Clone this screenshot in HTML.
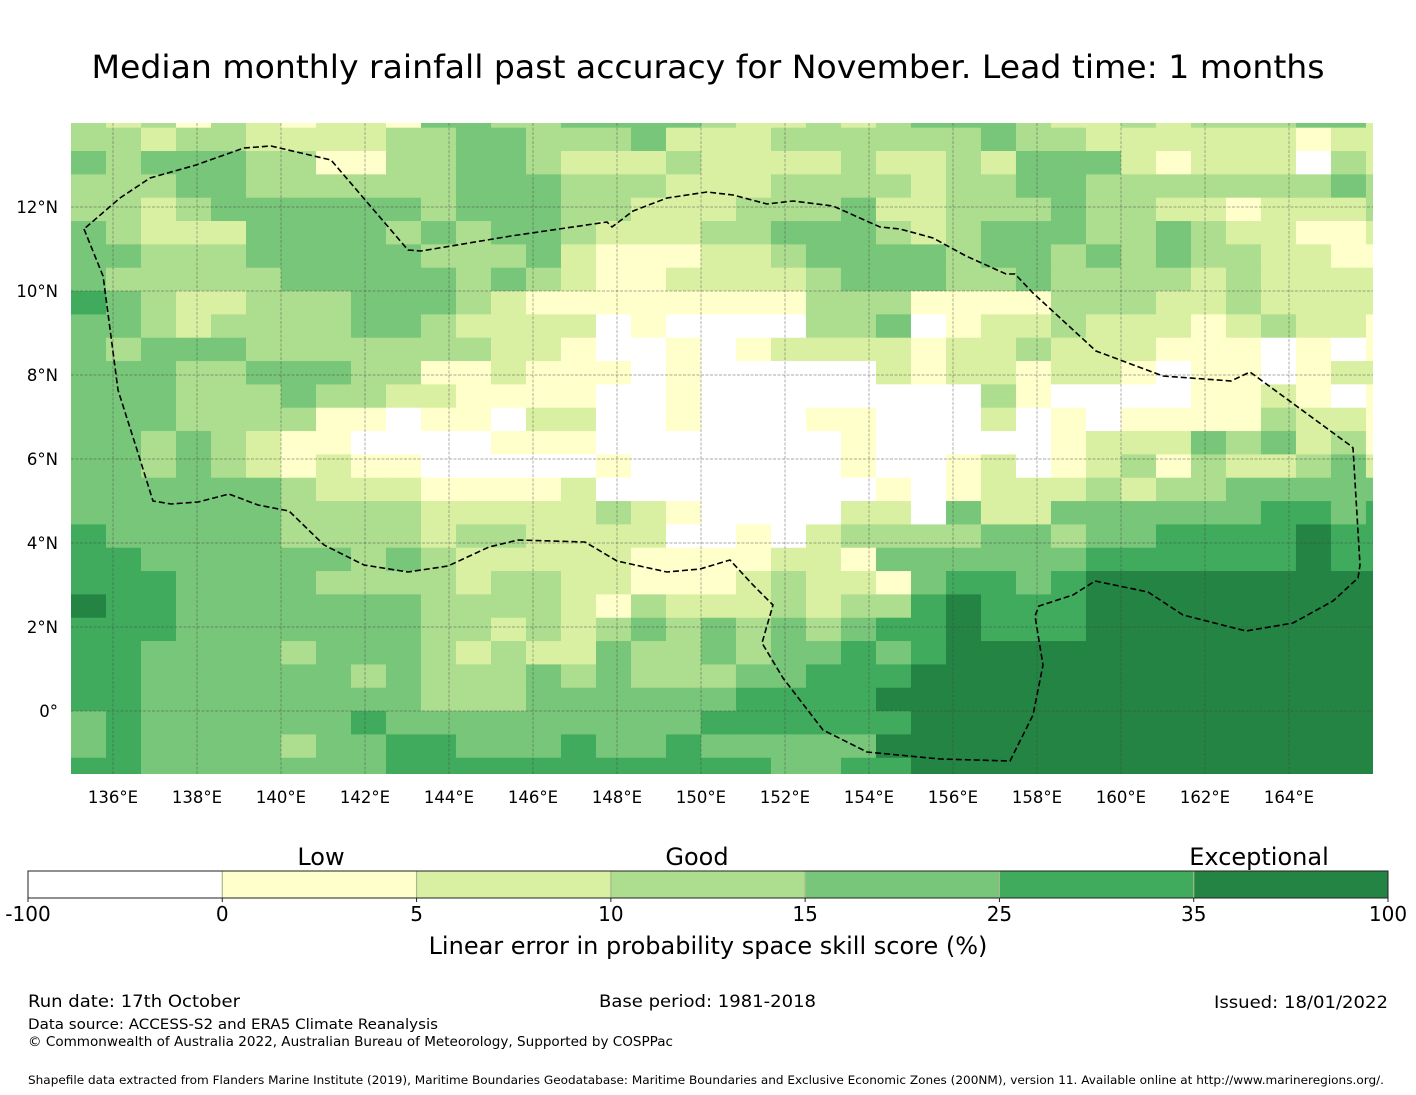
<!DOCTYPE html>
<html><head><meta charset="utf-8"><style>
html,body{margin:0;padding:0;background:#fff}
svg{display:block;font-family:"DejaVu Sans","Liberation Sans",sans-serif}
</style></head><body>
<svg id="chart" width="1416" height="1095" viewBox="0 0 1416 1095" xmlns="http://www.w3.org/2000/svg">
<text x="708" y="78" font-size="32" text-anchor="middle" textLength="1233" lengthAdjust="spacingAndGlyphs">Median monthly rainfall past accuracy for November. Lead time: 1 months</text>
<defs><clipPath id="mapclip"><rect x="71" y="123" width="1302" height="651"/></clipPath></defs>
<g id="map" clip-path="url(#mapclip)">
<g id="cells"></g>
<g id="grid"></g>
<path fill="none" stroke="#000" stroke-width="1.6" stroke-dasharray="6,3" d="M84,229 L103,276 L104,283 L118,390 L138,453 L153,501 L171,504 L198,502 L229,494 L258,505 L289,511 L324,545 L364,565 L408,572 L448,566 L489,547 L518,540 L585,542 L617,561 L667,572 L700,569 L730,560 L753,585 L773,605 L762,643 L783,678 L823,730 L867,752 L940,759 L1010,761 L1033,715 L1043,665 L1035,616 L1039,606 L1073,595 L1095,581 L1148,592 L1183,615 L1246,631 L1293,623 L1333,601 L1358,578 L1360,565 L1353,448 L1351,446 L1250,372 L1231,381 L1163,376 L1096,351 L1033,293 L1015,274 L1006,274 L966,256 L933,238 L900,229 L880,227 L833,206 L793,201 L767,204 L733,195 L707,192 L667,198 L633,211 L612,227 L607,222 L511,236 L421,251 L408,250 L331,160 L271,146 L244,148 L196,165 L150,178 L120,198 Z"/>
</g>
<g id="lonlabels" font-size="16.5"></g>
<g id="latlabels" font-size="16.5"></g>
<g id="cbar"></g>
<text x="321" y="865" font-size="24" text-anchor="middle">Low</text>
<text x="697" y="865" font-size="24" text-anchor="middle">Good</text>
<text x="1259" y="865" font-size="24" text-anchor="middle">Exceptional</text>
<text x="708" y="954" font-size="24" text-anchor="middle">Linear error in probability space skill score (%)</text>
<text x="28" y="1007" font-size="17" textLength="212" lengthAdjust="spacingAndGlyphs">Run date: 17th October</text>
<text x="599" y="1007" font-size="17" textLength="217" lengthAdjust="spacingAndGlyphs">Base period: 1981-2018</text>
<text x="1388" y="1008" font-size="17" text-anchor="end" textLength="174" lengthAdjust="spacingAndGlyphs">Issued: 18/01/2022</text>
<text x="28" y="1029" font-size="14.5" textLength="410" lengthAdjust="spacingAndGlyphs">Data source: ACCESS-S2 and ERA5 Climate Reanalysis</text>
<text x="28" y="1046" font-size="13" textLength="645" lengthAdjust="spacingAndGlyphs">© Commonwealth of Australia 2022, Australian Bureau of Meteorology, Supported by COSPPac</text>
<text x="28" y="1084" font-size="11.5" textLength="1356" lengthAdjust="spacingAndGlyphs">Shapefile data extracted from Flanders Marine Institute (2019), Maritime Boundaries Geodatabase: Maritime Boundaries and Exclusive Economic Zones (200NM), version 11. Available online at http://www.marineregions.org/.</text>
</svg>
<script>
// skill category per cell (0:<0, 1:0-5, 2:5-10, 3:10-15, 4:15-25, 5:25-35, 6:>35), rows north→south, cols west→east
const gridRows = [
"32313212214433444432232344432232333442",
"33233222233443334222333333433222222122",
"43444331133443222322223223244421222032",
"33344333333444333222333323344333333343",
"33234444443444332223334223334332212223",
"43222444434344322233444323444334322112",
"44333444443334211122344443443434332211",
"43333344444343211222234443343333232222",
"54322333444321111111133311113332232222",
"44323333443222201000033401223222123221",
"43444333333322100101222212232221110101",
"44433444331121110100000212212210110122",
"44433343322111100100000000310000112101",
"44433331101102200100011000201011113221",
"44343211000011100000001000001222434231",
"44343212110000010000001001201231322342",
"44444432221111200000000101222323344444",
"44444433332222232100002204224444445545",
"54444433332332222001023333443445555655",
"55444444343222221111221444444555555655",
"55544443333233221112322145545666666666",
"65544444443333213222323356555666666666",
"55544444443323234343434556555666666666",
"55444434443232243343445456666666666666",
"55444444343334343334455566666666666666",
"55444444443334444445555666666666666666",
"45444444544444444455555566666666666666",
"45444434455444544544444666666666666666",
"55444444455555555555445566666666666666"
];
const categoryValues = [-50, 2.5, 7.5, 12.5, 20, 30, 60];
const binEdges = [-100, 0, 5, 10, 15, 25, 35, 100];
const binColors = ["#ffffff","#ffffcc","#d9f0a3","#addd8e","#78c679","#41ab5d","#238443"];
const lonTicks = [136,138,140,142,144,146,148,150,152,154,156,158,160,162,164];
const latTicks = [12,10,8,6,4,2,0];
const latTickLabels = ["12°N","10°N","8°N","6°N","4°N","2°N","0°"];
const cbarTickLabels = ["-100","0","5","10","15","25","35","100"];
const cellLon0 = 135, cellDLon = 0.8333, cellLat0 = 14.444, cellDLat = 0.5556;

const NS="http://www.w3.org/2000/svg";
const xOf = lon => 71 + (lon - 135) * 42;
const yOf = lat => 711 - lat * 42;
function colorOf(v){ for(let i=0;i<binEdges.length-1;i++){ if(v<binEdges[i+1]) return binColors[i]; } return binColors[binColors.length-1]; }
function mk(tag, attrs, parent){ const e=document.createElementNS(NS,tag); for(const k in attrs) e.setAttribute(k,attrs[k]); parent.appendChild(e); return e; }

const cells=document.getElementById('cells');
gridRows.forEach((row,r)=>{
  for(let c=0;c<row.length;c++){
    const v=categoryValues[+row[c]];
    const x0=xOf(cellLon0+c*cellDLon), x1=xOf(cellLon0+(c+1)*cellDLon);
    const y0=yOf(cellLat0-r*cellDLat), y1=yOf(cellLat0-(r+1)*cellDLat);
    const el=mk('rect',{x:x0.toFixed(2),y:y0.toFixed(2),width:(x1-x0+0.4).toFixed(2),height:(y1-y0+0.4).toFixed(2),fill:colorOf(v)},cells);
    
    
  }
});
const grid=document.getElementById('grid');
lonTicks.forEach(l=>{ const el=mk('line',{x1:xOf(l),x2:xOf(l),y1:123,y2:774,stroke:'#444','stroke-width':0.7,'stroke-dasharray':'3,1.5','stroke-opacity':0.6},grid);
  
   });
latTicks.forEach(l=>{ const el=mk('line',{x1:71,x2:1373,y1:yOf(l),y2:yOf(l),stroke:'#444','stroke-width':0.7,'stroke-dasharray':'3,1.5','stroke-opacity':0.6},grid);
  
   });
const lonG=document.getElementById('lonlabels');
lonTicks.forEach(l=>{ const t=mk('text',{x:xOf(l),y:803,'text-anchor':'middle'},lonG); t.textContent=l+'°E';
  
   });
const latG=document.getElementById('latlabels');
latTicks.forEach((l,i)=>{ const t=mk('text',{x:58,y:yOf(l)+6,'text-anchor':'end'},latG); t.textContent=latTickLabels[i];
  
   });
const cb=document.getElementById('cbar');
const segW=(1388-28)/binColors.length;
binColors.forEach((col,i)=>{ const el=mk('rect',{x:28+i*segW,y:871,width:segW,height:27,fill:col},cb);
  
  
  if(i>0){ const d=mk('line',{x1:28+i*segW,x2:28+i*segW,y1:871,y2:898,stroke:'#a8b890','stroke-width':1.2},cb);
    
     } });
const fr=mk('rect',{x:28,y:871,width:1360,height:27,fill:'none',stroke:'#222','stroke-width':1},cb);


cbarTickLabels.forEach((s,i)=>{ const x=28+i*segW;
  const tk=mk('line',{x1:x,x2:x,y1:898,y2:902,stroke:'#222','stroke-width':1},cb);
  
  
  const t=mk('text',{x:x,y:921,'text-anchor':'middle','font-size':20},cb); t.textContent=s;
  
   });
</script>
</body></html>
